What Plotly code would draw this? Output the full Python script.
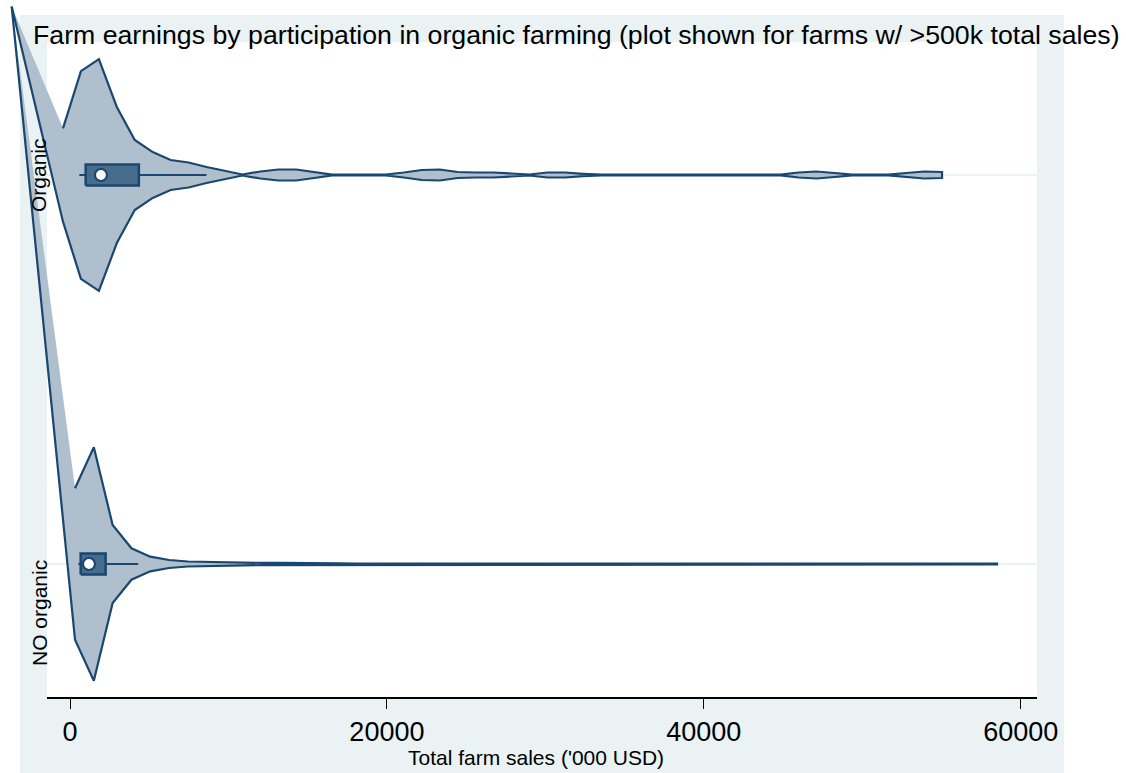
import plotly.graph_objects as go

# ---------------- data ----------------
CATEGORIES = ["NO organic", "Organic"]
LEVELS = [0, 1]

# violin outline: evaluation points (sales, '000 USD) and scaled half-width of the density
organic_sales = [-442, 690, 1823, 2955, 4087, 5219, 6351, 7484, 8616, 9748,
                 10880, 12012, 13144, 14277, 15409, 16541, 17673, 18806, 19938, 21070,
                 22202, 23334, 24466, 25599, 26731, 27863, 28995, 30127, 31260, 32392,
                 33524, 34656, 35788, 36921, 38053, 39185, 40317, 41449, 42582, 43714,
                 44846, 45978, 47110, 48243, 49375, 50507, 51639, 52771, 53904, 55036]
organic_density = [0.120, 0.267, 0.298, 0.175, 0.090, 0.059, 0.0386, 0.0321, 0.0206, 0.0103,
                   0.0013, 0.0090, 0.0141, 0.0141, 0.0077, 0.0008, 0.0008, 0.0008, 0.0013, 0.0064,
                   0.0129, 0.0141, 0.0077, 0.0064, 0.0064, 0.0039, 0.0013, 0.0064, 0.0064, 0.0031,
                   0.0008, 0.0008, 0.0008, 0.0008, 0.0008, 0.0008, 0.0008, 0.0008, 0.0008, 0.0008,
                   0.0008, 0.0064, 0.0090, 0.0051, 0.0008, 0.0008, 0.0008, 0.0051, 0.0090, 0.0077]

no_organic_sales = [316, 1503, 2691, 3878, 5066, 6253, 7441, 8628, 9816, 11003,
                    12191, 13378, 14566, 15753, 16941, 18128, 19316, 20503, 21691, 22878,
                    24066, 25253, 26441, 27628, 28816, 30003, 31191, 32378, 33566, 34753,
                    35941, 37128, 38316, 39503, 40691, 41878, 43066, 44253, 45441, 46628,
                    47816, 49003, 50191, 51378, 52566, 53753, 54941, 56128, 57316, 58503]
no_organic_density = [0.1946, 0.300, 0.1003, 0.0404, 0.0188, 0.0103, 0.0064, 0.0051, 0.0046, 0.0036,
                      0.0028, 0.0031, 0.0021, 0.0021, 0.0015, 0.0012, 0.0012, 0.0012, 0.0012, 0.0012,
                      0.0012, 0.0012, 0.0012, 0.0012, 0.0012, 0.0012, 0.0012, 0.0012, 0.0012, 0.0012,
                      0.0012, 0.0012, 0.0012, 0.0012, 0.0012, 0.0012, 0.0012, 0.0012, 0.0012, 0.0012,
                      0.0012, 0.0012, 0.0012, 0.0012, 0.0012, 0.0012, 0.0012, 0.0012, 0.0012, 0.0012]

# box-plot statistics ('000 USD): lower whisker, q1, median, q3, upper whisker
organic_box = [586, 989, 1953, 4346, 8611]
no_organic_box = [523, 674, 1197, 2249, 4302]

# stray polygon vertex produced by the original software (both violins join it)
STRAY_SALES = -3680
STRAY_LEVEL = 1.433

X_TICKS = [0, 20000, 40000, 60000]
TITLE = "Farm earnings by participation in organic farming (plot shown for farms w/ >500k total sales)"
X_TITLE = "Total farm sales ('000 USD)"

# ---------------- style / geometry ----------------
W, H = 1126, 773
NAVY = "rgb(26,71,111)"
VIOLIN_FILL = "rgb(175,191,205)"
BOX_FILL = "rgb(72,108,140)"
BG = "rgb(234,242,243)"
FONT = "Liberation Sans, Arial, sans-serif"

PLOT_L, PLOT_R, PLOT_T, PLOT_B = 47, 1037, 42, 697
X0_PX, X_SCALE = 70, 63.11          # pixel of sales=0, units per pixel
Y1_PX, Y_SCALE = 175, 389.0         # pixel of level 1, pixels per level unit
BOX_HALF = 0.027


def xr(px_a, px_b):
    return [(px_a - X0_PX) * X_SCALE, (px_b - X0_PX) * X_SCALE]


def yr(py_bottom, py_top):
    return [1 + (Y1_PX - py_bottom) / Y_SCALE, 1 + (Y1_PX - py_top) / Y_SCALE]


fig = go.Figure()

groups = [
    (LEVELS[0], no_organic_sales, no_organic_density, no_organic_box),
    (LEVELS[1], organic_sales, organic_density, organic_box),
]

# fills
for lvl, xs, ds, _ in groups:
    upper = [lvl + d for d in ds]
    lower = [lvl - d for d in ds]
    fig.add_trace(go.Scatter(
        x=[STRAY_SALES] + xs + xs[::-1] + [STRAY_SALES],
        y=[STRAY_LEVEL] + upper + lower[::-1] + [STRAY_LEVEL],
        fill="toself", fillcolor=VIOLIN_FILL, mode="lines",
        line=dict(width=0, color=VIOLIN_FILL), hoverinfo="skip",
        xaxis="x2", yaxis="y2"))

# outlines
for lvl, xs, ds, _ in groups:
    upper = [lvl + d for d in ds]
    lower = [lvl - d for d in ds]
    fig.add_trace(go.Scatter(
        x=xs + xs[::-1] + [STRAY_SALES],
        y=upper + lower[::-1] + [STRAY_LEVEL],
        mode="lines", line=dict(width=2.2, color=NAVY),
        hoverinfo="skip", xaxis="x2", yaxis="y2"))

# box plots
for lvl, xs, ds, (lo, q1, med, q3, hi) in groups:
    fig.add_trace(go.Scatter(
        x=[lo, hi], y=[lvl, lvl], mode="lines",
        line=dict(width=2, color=NAVY), xaxis="x2", yaxis="y2"))
    fig.add_trace(go.Scatter(
        x=[q1, q3, q3, q1, q1],
        y=[lvl - BOX_HALF, lvl - BOX_HALF, lvl + BOX_HALF, lvl + BOX_HALF, lvl - BOX_HALF],
        mode="lines", fill="toself", fillcolor=BOX_FILL,
        line=dict(width=2.5, color=NAVY), xaxis="x2", yaxis="y2"))
    fig.add_trace(go.Scatter(
        x=[med], y=[lvl], mode="markers",
        marker=dict(symbol="circle", size=12, color="white", line=dict(width=2.2, color=NAVY)),
        xaxis="x2", yaxis="y2"))

fig.update_layout(
    height=H, autosize=True,
    margin=dict(l=0, r=0, t=0, b=0, autoexpand=False),
    paper_bgcolor="white", plot_bgcolor="rgba(0,0,0,0)",
    showlegend=False,
    font=dict(family=FONT, color="black"),
    xaxis=dict(domain=[PLOT_L / W, PLOT_R / W], anchor="y",
               range=xr(PLOT_L, PLOT_R), tickvals=X_TICKS,
               ticktext=[str(t) for t in X_TICKS],
               ticks="outside", ticklen=10, tickwidth=1, tickcolor="black",
               showline=True, linecolor="black", linewidth=1.5,
               showgrid=False, zeroline=False, automargin=False,
               tickfont=dict(size=27, family=FONT, color="black")),
    yaxis=dict(domain=[(H - PLOT_B) / H, (H - PLOT_T) / H], anchor="x",
               range=yr(PLOT_B, PLOT_T), tickvals=LEVELS,
               showticklabels=False, ticks="", automargin=False,
               showgrid=True, gridcolor=BG, gridwidth=2,
               zeroline=False, showline=False),
    xaxis2=dict(domain=[0, 1], anchor="y2", range=xr(0, W), visible=False),
    yaxis2=dict(domain=[0, 1], anchor="x2", range=yr(H, 0), visible=False),
    shapes=[
        dict(type="rect", xref="paper", yref="paper", layer="below",
             x0=20 / W, x1=1064 / W, y0=0, y1=1 - 15 / H,
             fillcolor=BG, line=dict(width=0)),
        dict(type="rect", xref="paper", yref="paper", layer="below",
             x0=PLOT_L / W, x1=PLOT_R / W, y0=(H - PLOT_B) / H, y1=(H - PLOT_T) / H,
             fillcolor="white", line=dict(width=0)),
    ],
    annotations=[
        dict(text=TITLE, xref="paper", yref="paper", x=576 / W, y=1 - 35 / H,
             xanchor="center", yanchor="middle", showarrow=False,
             font=dict(size=26.7, family=FONT, color="black")),
        dict(text=X_TITLE, xref="paper", yref="paper", x=536 / W, y=1 - 757 / H,
             xanchor="center", yanchor="middle", showarrow=False,
             font=dict(size=21, family=FONT, color="black")),
        dict(text=CATEGORIES[1], xref="paper", yref="y", x=39 / W, y=LEVELS[1],
             xanchor="center", yanchor="middle", textangle=-90, showarrow=False,
             font=dict(size=21, family=FONT, color="black")),
        dict(text=CATEGORIES[0], xref="paper", yref="y", x=39 / W, y=LEVELS[0],
             yshift=-49, xanchor="center", yanchor="middle", textangle=-90, showarrow=False,
             font=dict(size=21, family=FONT, color="black")),
    ],
)

POST = ("document.documentElement.style.margin='0';"
        "document.body.style.margin='0';document.body.style.padding='0';"
        "document.documentElement.style.overflow='hidden';"
        "document.body.style.overflow='hidden';"
        "var gd=document.getElementById('{plot_id}');"
        "if(window.Plotly&&gd){gd.style.width='100%';gd.style.height='773px';"
        "Plotly.Plots.resize(gd);}")

fig.write_html("out.html", config={"responsive": True, "displayModeBar": False},
               default_width="100%", default_height="773px",
               post_script=POST)
